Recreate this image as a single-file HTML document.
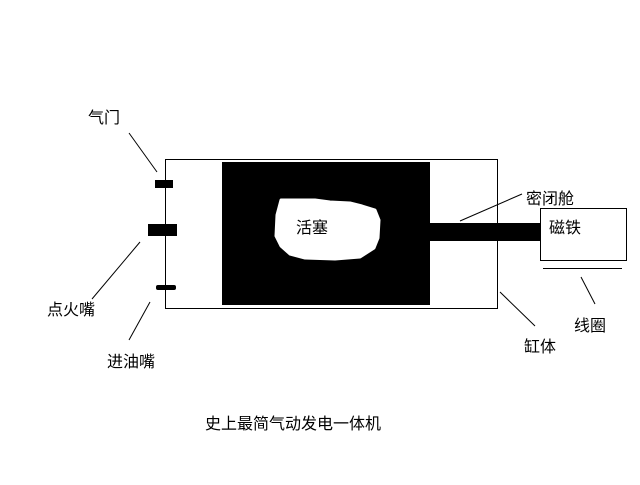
<!DOCTYPE html>
<html><head><meta charset="utf-8"><style>
body{margin:0;background:#fff;}
svg text{font-family:"Liberation Sans","Noto Sans CJK SC",sans-serif;font-size:16px;fill:#000;}
</style></head><body>
<svg width="640" height="480" viewBox="0 0 640 480" xmlns="http://www.w3.org/2000/svg">
<rect x="0" y="0" width="640" height="480" fill="#fff"/>
<rect x="165.5" y="159.5" width="332" height="149" fill="none" stroke="#000" stroke-width="1"/>
<rect x="222" y="162" width="208" height="143" fill="#000"/>
<path d="M281,200 L315,200 L330,202 L350,203 L362,206 L375,210 L379,220 L378,238 L374,248 L360,257 L335,259 L305,258 L290,254 L281,246 L276,236 L277,215 Z" fill="#fff" stroke="#fff" stroke-width="3" stroke-linejoin="round"/>
<text x="296" y="233">活塞</text>
<rect x="430" y="223" width="110" height="18" fill="#000"/>
<rect x="540.5" y="208.5" width="86" height="52" fill="none" stroke="#000"/>
<text x="549" y="233">磁铁</text>
<line x1="543" y1="268.5" x2="622" y2="268.5" stroke="#000"/>
<rect x="155" y="180" width="18" height="8" fill="#000"/>
<rect x="148" y="224" width="29" height="12" fill="#000"/>
<rect x="156" y="285" width="20" height="5" rx="2" fill="#000"/>
<g stroke="#000" stroke-width="1">
<line x1="129" y1="133" x2="157" y2="172"/>
<line x1="140" y1="242" x2="92" y2="299"/>
<line x1="150" y1="302" x2="129" y2="340"/>
<line x1="460" y1="221" x2="522" y2="194"/>
<line x1="500" y1="292" x2="535" y2="326"/>
<line x1="581" y1="277" x2="595" y2="304"/>
</g>
<text x="88" y="123">气门</text>
<text x="47" y="315">点火嘴</text>
<text x="107" y="367">进油嘴</text>
<text x="526" y="204">密闭舱</text>
<text x="524" y="352">缸体</text>
<text x="574" y="331">线圈</text>
<text x="205" y="429">史上最简气动发电一体机</text>
</svg>
</body></html>
